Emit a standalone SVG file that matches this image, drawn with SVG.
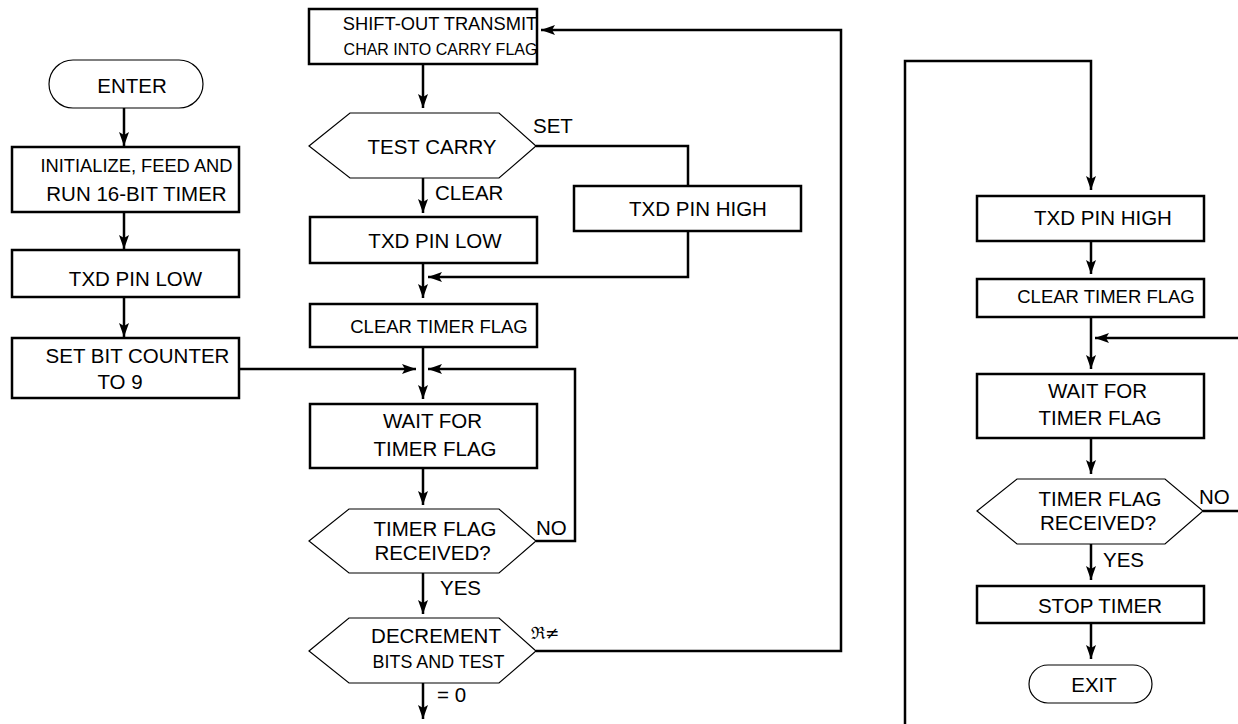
<svg xmlns="http://www.w3.org/2000/svg" width="1238" height="724" viewBox="0 0 1238 724">
<style>
.box{fill:#fff;stroke:#000;stroke-width:2.5}
.hex{fill:#fff;stroke:#000;stroke-width:1.2}
.pill{fill:#fff;stroke:#000;stroke-width:1.2}
.t{font-family:"Liberation Sans",Arial,sans-serif;font-size:20.5px;fill:#000;text-anchor:middle}
.l{font-family:"Liberation Sans",Arial,sans-serif;font-size:20.5px;fill:#000}
.c{fill:none;stroke:#000;stroke-width:2.5}
.a{marker-end:url(#ah)}
</style>
<defs>
<marker id="ah" viewBox="0 0 14 10" refX="14" refY="5" markerWidth="14" markerHeight="10" markerUnits="userSpaceOnUse" orient="auto">
<path d="M0,0 L14,5 L0,10 L3,5 z" fill="#000"/>
</marker>
</defs>
<g id="connectors">
<path class="c a" d="M124,108 V146"/>
<path class="c a" d="M124,212 V249"/>
<path class="c a" d="M124,297 V337"/>
<path class="c a" d="M239,369 H416"/>
<path class="c a" d="M536,651 H841 V30 H541"/>
<path class="c a" d="M423,64 V108"/>
<path class="c" d="M536,146 H688 V186"/>
<path class="c a" d="M688,231 V277 H428"/>
<path class="c a" d="M423,178 V213"/>
<path class="c a" d="M423,263 V298"/>
<path class="c a" d="M423,347 V399"/>
<path class="c a" d="M536,541 H575 V369 H428"/>
<path class="c a" d="M423,468 V505"/>
<path class="c a" d="M423,573 V614"/>
<path class="c a" d="M423,683 V719"/>
<path class="c a" d="M905,724 V61 H1091 V190"/>
<path class="c a" d="M1091,241 V274"/>
<path class="c a" d="M1091,317 V369"/>
<path class="c a" d="M1238,338 H1095"/>
<path class="c a" d="M1091,438 V474"/>
<path class="c" d="M1203,511 H1238"/>
<path class="c a" d="M1091,544 V580"/>
<path class="c a" d="M1091,623 V659"/>
<text class="l" x="533" y="133">SET</text>
<text class="l" x="435" y="200">CLEAR</text>
<text class="l" x="536" y="535">NO</text>
<text class="l" x="440" y="595">YES</text>
<text x="531" y="639" style="font-family:'DejaVu Serif',serif;font-size:17px">ℜ≠</text>
<text class="l" x="437" y="702">= 0</text>
<text class="l" x="1199" y="504">NO</text>
<text class="l" x="1103" y="567">YES</text>
</g>
<g id="enter">
<rect class="pill" x="49" y="60" width="154" height="48" rx="24"/>
<text class="t" x="132" y="93">ENTER</text>
</g>
<g id="init">
<rect class="box" x="12" y="147" width="227" height="65"/>
<text class="t" x="136.5" y="172" style="font-size:18.3px">INITIALIZE, FEED AND</text>
<text class="t" x="136.5" y="201">RUN 16-BIT TIMER</text>
</g>
<g id="txd-low-1">
<rect class="box" x="12" y="250" width="227" height="47"/>
<text class="t" x="135.5" y="286">TXD PIN LOW</text>
</g>
<g id="set-counter">
<rect class="box" x="12" y="338" width="227" height="60"/>
<text class="t" x="137.5" y="363">SET BIT COUNTER</text>
<text class="t" x="120" y="389">TO 9</text>
</g>
<g id="shift-out">
<rect class="box" x="309" y="9" width="228" height="55"/>
<text class="t" x="440" y="30" style="font-size:18.3px">SHIFT-OUT TRANSMIT</text>
<text class="t" x="440.5" y="55" style="font-size:16px">CHAR INTO CARRY FLAG</text>
</g>
<g id="test-carry">
<polygon class="hex" points="309,146 350,113 499,113 536,146 499,178 350,178"/>
<text class="t" x="432" y="154">TEST CARRY</text>
</g>
<g id="txd-high-1">
<rect class="box" x="574" y="186" width="227" height="45"/>
<text class="t" x="698" y="216">TXD PIN HIGH</text>
</g>
<g id="txd-low-2">
<rect class="box" x="310" y="217" width="227" height="46"/>
<text class="t" x="435" y="248">TXD PIN LOW</text>
</g>
<g id="clear-flag-1">
<rect class="box" x="310" y="304" width="227" height="43"/>
<text class="t" x="439" y="333" style="font-size:18.5px">CLEAR TIMER FLAG</text>
</g>
<g id="wait-1">
<rect class="box" x="310" y="404" width="227" height="64"/>
<text class="t" x="432.5" y="428">WAIT FOR</text>
<text class="t" x="435" y="456">TIMER FLAG</text>
</g>
<g id="received-1">
<polygon class="hex" points="309,541 349,509 499,509 536,541 499,573 349,573"/>
<text class="t" x="435" y="536">TIMER FLAG</text>
<text class="t" x="432.5" y="560">RECEIVED?</text>
</g>
<g id="decrement">
<polygon class="hex" points="309,651 349,618 499,618 536,651 499,683 349,683"/>
<text class="t" x="436" y="643">DECREMENT</text>
<text class="t" x="438.5" y="668" style="font-size:17.9px">BITS AND TEST</text>
</g>
<g id="txd-high-2">
<rect class="box" x="977" y="196" width="227" height="45"/>
<text class="t" x="1103" y="225">TXD PIN HIGH</text>
</g>
<g id="clear-flag-2">
<rect class="box" x="977" y="279" width="227" height="38"/>
<text class="t" x="1106" y="303" style="font-size:18.5px">CLEAR TIMER FLAG</text>
</g>
<g id="wait-2">
<rect class="box" x="977" y="374" width="227" height="64"/>
<text class="t" x="1097.5" y="398">WAIT FOR</text>
<text class="t" x="1100" y="425">TIMER FLAG</text>
</g>
<g id="received-2">
<polygon class="hex" points="977,511 1017,479 1165,479 1203,511 1165,544 1017,544"/>
<text class="t" x="1100" y="506">TIMER FLAG</text>
<text class="t" x="1098" y="530">RECEIVED?</text>
</g>
<g id="stop-timer">
<rect class="box" x="977" y="586" width="227" height="37"/>
<text class="t" x="1100" y="613">STOP TIMER</text>
</g>
<g id="exit">
<rect class="pill" x="1029" y="665" width="123" height="38" rx="19"/>
<text class="t" x="1094" y="692">EXIT</text>
</g>
</svg>
